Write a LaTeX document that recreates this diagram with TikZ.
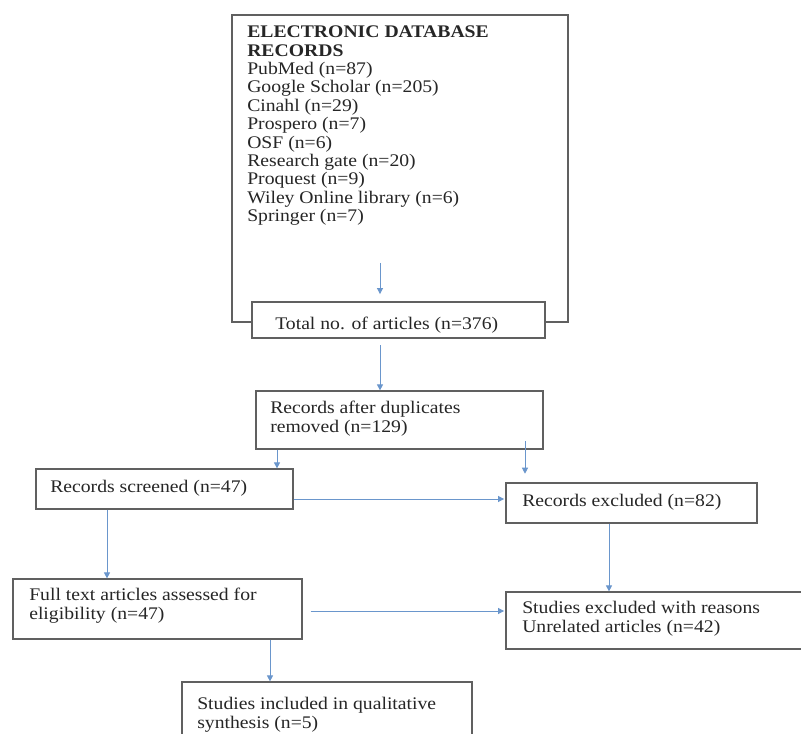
\documentclass[tikz,border=0pt]{standalone}
\usepackage{fontspec}
\setmainfont{Liberation Serif}[FakeStretch=1.11]
\usetikzlibrary{arrows.meta,fit}
\definecolor{connc}{RGB}{106,150,204}
\definecolor{boxc}{RGB}{96,96,96}
\begin{document}
\begin{tikzpicture}[x=0.75pt,y=-0.75pt,
  box/.style={draw=boxc,line width=0.9pt,inner sep=0pt,fill=white},
  txt/.style={anchor=base west,inner sep=0pt,text=black!85,font=\fontsize{13.3}{13.8}\selectfont},
  conn/.style={draw=connc,line width=0.7pt,-{Triangle[length=4.5pt,width=4.5pt]}}]
\clip (0,0) rectangle (801,734);
\fill[white] (0,0) rectangle (801,734);
% helper coordinates
\coordinate (a0) at (380,263);
\coordinate (c380) at (380,0);
\coordinate (c277) at (277,0);
\coordinate (c525) at (525,0);
\coordinate (c107) at (107,0);
\coordinate (c609) at (609,0);
\coordinate (c270) at (270,0);
\coordinate (y499) at (0,499);
\coordinate (y611) at (0,611);
% boxes
\node[box,fit={(232,15)(568,322)}] (db) {};
\node[box,fit={(252,302)(545,338)}] (tot) {};
\node[box,fit={(256,391)(543,449)}] (rad) {};
\node[box,fit={(36,469)(293,509)}] (scr) {};
\node[box,fit={(506,483)(757,523)}] (exc) {};
\node[box,fit={(13,579)(302,639)}] (full) {};
\node[box,fit={(506,592)(812,649)}] (sex) {};
\node[box,fit={(182,682)(472,745)}] (inc) {};
% texts
\node[txt] (tdb) at (247,37.7) {\vtop{%
  \hbox{\bfseries ELECTRONIC DATABASE}
  \hbox{\bfseries RECORDS}
  \hbox{PubMed (n=87)}
  \hbox{Google Scholar (n=205)}
  \hbox{Cinahl (n=29)}
  \hbox{Prospero (n=7)}
  \hbox{OSF (n=6)}
  \hbox{Research gate (n=20)}
  \hbox{Proquest (n=9)}
  \hbox{Wiley Online library (n=6)}
  \hbox{Springer (n=7)}}};
\node[txt] (ttot) at (275,330) {Total no. of articles (n=376)};
\node[txt] (trad) at (270,414) {\vtop{\hbox{Records after duplicates}\hbox{removed (n=129)}}};
\node[txt] (tscr) at (50,493) {Records screened (n=47)};
\node[txt] (texc) at (522,507) {Records excluded (n=82)};
\node[txt] (tfull) at (29,601) {\vtop{\hbox{Full text articles assessed for}\hbox{eligibility (n=47)}}};
\node[txt] (tsex) at (522,614) {\vtop{\hbox{Studies excluded with reasons}\hbox{Unrelated articles (n=42)}}};
\node[txt] (tinc) at (197,710) {\vtop{\hbox{Studies included in qualitative}\hbox{synthesis (n=5)}}};
% connectors
\draw[conn,shorten >=5.5pt] (a0) -- (a0 |- tot.north);
\draw[conn,shorten <=5pt] (tot.south -| c380) -- (rad.north -| c380);
\draw[conn] (rad.south -| c277) -- (scr.north -| c277);
\draw[conn,shorten <=-6.5pt,shorten >=6.5pt] (rad.south -| c525) -- (exc.north -| c525);
\draw[conn,shorten >=1pt] (scr.east |- y499) -- (exc.west |- y499);
\draw[conn] (scr.south -| c107) -- (full.north -| c107);
\draw[conn] (exc.south -| c609) -- (sex.north -| c609);
\draw[conn,shorten <=6pt,shorten >=1pt] (full.east |- y611) -- (sex.west |- y611);
\draw[conn] (full.south -| c270) -- (inc.north -| c270);
\end{tikzpicture}
\end{document}
